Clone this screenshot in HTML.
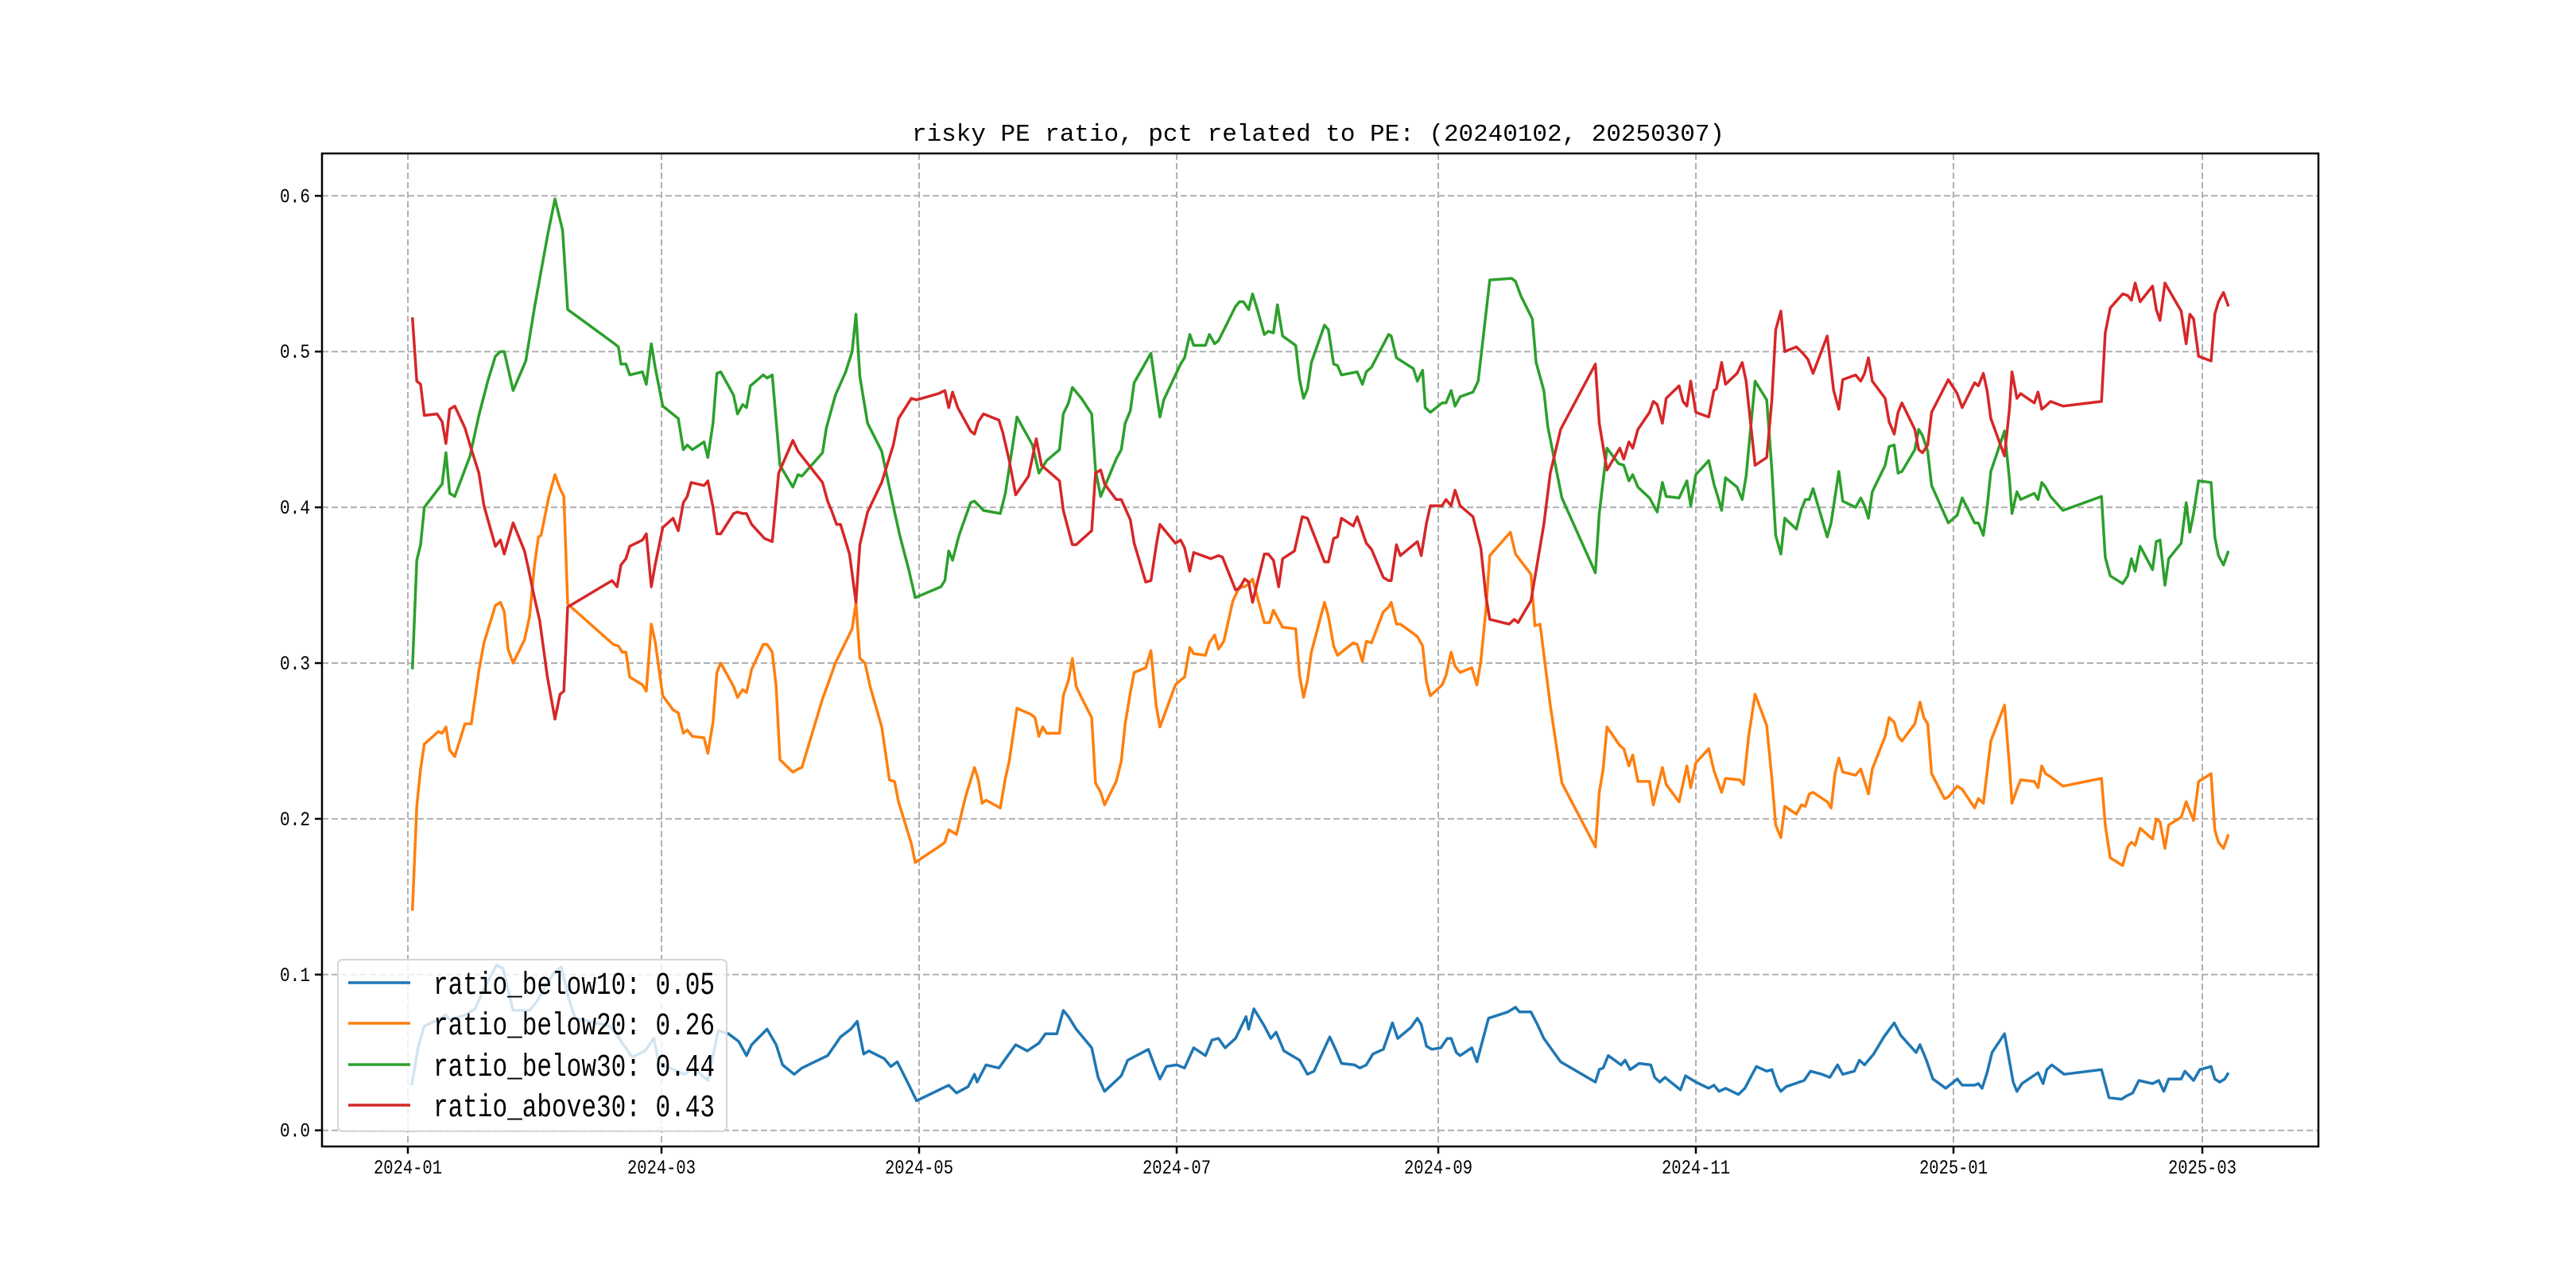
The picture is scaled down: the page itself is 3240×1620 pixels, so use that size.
<!DOCTYPE html>
<html><head><meta charset="utf-8">
<style>
html,body{margin:0;padding:0;background:#fff;}
svg{display:block;}
text{font-family:"Liberation Mono","Noto Sans CJK SC",monospace;fill:#000;}
</style></head>
<body>
<svg id="chart" width="3240" height="1620" viewBox="0 0 3240 1620" xmlns="http://www.w3.org/2000/svg">
  <rect x="0" y="0" width="3240" height="1620" fill="#fff"/>
  <text x="1147" y="177" font-size="31" textLength="1022" lengthAdjust="spacingAndGlyphs">risky PE ratio, pct related to PE: (20240102, 20250307)</text>
  <g id="grid"></g>
  <g id="series"></g>
  <rect x="405" y="193" width="2511" height="1249" fill="none" stroke="#000" stroke-width="2.5"/>
  <g id="ticks"></g>
  <g id="legend"></g>
</svg>
<script>
// ---- chart data ----
const xTickLabels = ["2024-01","2024-03","2024-05","2024-07","2024-09","2024-11","2025-01","2025-03"];
const xTickMonths = [0,2,4,6,8,10,12,14];
const yTickValues = [0.0,0.1,0.2,0.3,0.4,0.5,0.6];
const seriesNames = ["ratio_below10","ratio_below20","ratio_below30","ratio_above30"];
const seriesLast = ["0.05","0.26","0.44","0.43"];

const below10M = [0.03,0.08,0.13,0.26,0.30,0.33,0.45,0.53,0.60,0.70,0.75,0.83,0.96,1.01,1.15,1.21,1.27,1.32,1.59,1.64,1.77,1.87,1.94,1.98,2.18,2.25,2.36,2.44,2.52,2.60,2.66,2.70,2.82,2.89,2.94,3.03,3.09,3.29,3.39,3.47,3.52,3.57,3.61,3.73,3.78,3.83,3.91,3.98,4.23,4.29,4.38,4.43,4.45,4.52,4.62,4.75,4.84,4.93,4.98,5.07,5.12,5.16,5.22,5.34,5.39,5.44,5.57,5.62,5.78,5.83,5.87,5.92,6.0,6.06,6.13,6.22,6.27,6.32,6.37,6.45,6.53,6.55,6.59,6.67,6.72,6.76,6.82,6.94,7.0,7.05,7.17,7.22,7.26,7.36,7.40,7.45,7.50,7.58,7.65,7.69,7.79,7.84,7.87,7.91,7.95,8.02,8.07,8.10,8.14,8.17,8.26,8.30,8.39,8.54,8.60,8.63,8.72,8.77,8.82,8.95,9.22,9.25,9.28,9.32,9.42,9.45,9.49,9.56,9.65,9.68,9.72,9.76,9.88,9.92,10.0,10.10,10.14,10.18,10.23,10.33,10.38,10.47,10.55,10.59,10.63,10.66,10.70,10.84,10.89,10.98,11.04,11.10,11.14,11.23,11.27,11.31,11.38,11.46,11.54,11.59,11.71,11.74,11.79,11.84,11.94,12.03,12.07,12.17,12.20,12.23,12.27,12.31,12.41,12.48,12.51,12.55,12.68,12.72,12.75,12.79,12.89,13.19,13.25,13.35,13.39,13.44,13.49,13.60,13.65,13.69,13.73,13.83,13.86,13.93,13.98,14.07,14.10,14.14,14.18,14.21];
const below10V = [0.029,0.053,0.067,0.072,0.074,0.071,0.074,0.078,0.091,0.106,0.104,0.077,0.077,0.082,0.101,0.105,0.084,0.072,0.067,0.062,0.047,0.051,0.059,0.043,0.036,0.040,0.032,0.064,0.062,0.057,0.048,0.055,0.065,0.055,0.042,0.036,0.040,0.048,0.060,0.065,0.070,0.049,0.051,0.046,0.041,0.044,0.031,0.019,0.029,0.024,0.028,0.036,0.031,0.042,0.040,0.055,0.051,0.056,0.062,0.062,0.077,0.073,0.065,0.053,0.034,0.025,0.035,0.045,0.052,0.041,0.033,0.041,0.042,0.040,0.053,0.048,0.058,0.059,0.053,0.059,0.073,0.065,0.078,0.067,0.059,0.063,0.051,0.045,0.036,0.038,0.060,0.051,0.043,0.042,0.040,0.042,0.049,0.052,0.069,0.059,0.066,0.072,0.068,0.054,0.052,0.053,0.059,0.059,0.050,0.048,0.053,0.044,0.072,0.076,0.079,0.076,0.076,0.068,0.059,0.044,0.031,0.039,0.040,0.048,0.042,0.045,0.039,0.043,0.042,0.034,0.031,0.034,0.026,0.035,0.031,0.027,0.029,0.025,0.027,0.023,0.027,0.041,0.038,0.039,0.029,0.025,0.028,0.032,0.038,0.036,0.034,0.042,0.036,0.038,0.045,0.042,0.049,0.060,0.069,0.061,0.050,0.055,0.045,0.033,0.027,0.033,0.029,0.029,0.030,0.027,0.037,0.050,0.062,0.031,0.025,0.030,0.037,0.030,0.039,0.042,0.036,0.039,0.021,0.020,0.022,0.024,0.032,0.030,0.032,0.025,0.033,0.033,0.038,0.032,0.039,0.041,0.033,0.031,0.033,0.037];

const below20M = [0.036,0.07,0.10,0.13,0.24,0.27,0.30,0.33,0.37,0.45,0.50,0.56,0.60,0.69,0.73,0.76,0.79,0.83,0.92,0.96,1.0,1.03,1.05,1.11,1.16,1.20,1.23,1.26,1.62,1.66,1.69,1.72,1.75,1.85,1.88,1.92,1.95,2.01,2.09,2.13,2.17,2.20,2.24,2.33,2.36,2.40,2.43,2.46,2.56,2.59,2.63,2.66,2.70,2.79,2.82,2.86,2.89,2.92,3.02,3.06,3.09,3.25,3.29,3.35,3.48,3.51,3.54,3.58,3.62,3.71,3.77,3.81,3.84,3.94,3.97,4.17,4.20,4.23,4.29,4.36,4.43,4.46,4.49,4.52,4.63,4.67,4.70,4.76,4.87,4.90,4.93,4.96,4.99,5.09,5.12,5.16,5.19,5.22,5.26,5.34,5.37,5.41,5.44,5.53,5.57,5.60,5.64,5.67,5.76,5.80,5.84,5.87,5.99,6.03,6.06,6.10,6.13,6.22,6.25,6.29,6.32,6.36,6.43,6.48,6.52,6.55,6.58,6.67,6.71,6.74,6.81,6.91,6.94,6.97,7.0,7.03,7.13,7.16,7.20,7.23,7.35,7.38,7.42,7.45,7.49,7.58,7.62,7.64,7.68,7.71,7.81,7.84,7.88,7.91,7.94,8.03,8.06,8.10,8.13,8.17,8.26,8.30,8.33,8.37,8.40,8.56,8.60,8.72,8.75,8.79,8.87,8.96,9.22,9.25,9.28,9.31,9.41,9.44,9.48,9.51,9.55,9.64,9.67,9.74,9.77,9.87,9.93,9.96,10.0,10.10,10.14,10.20,10.23,10.34,10.37,10.41,10.46,10.55,10.59,10.62,10.66,10.69,10.78,10.82,10.85,10.88,10.91,11.02,11.05,11.08,11.11,11.14,11.24,11.28,11.34,11.37,11.47,11.50,11.54,11.57,11.60,11.70,11.74,11.77,11.80,11.83,11.93,11.96,12.03,12.07,12.17,12.20,12.24,12.30,12.41,12.45,12.47,12.51,12.54,12.65,12.68,12.71,12.74,12.78,12.88,13.19,13.22,13.26,13.36,13.40,13.43,13.46,13.50,13.60,13.63,13.66,13.70,13.73,13.83,13.87,13.90,13.93,13.97,14.07,14.10,14.13,14.17,14.21];
const below20V = [0.141,0.208,0.232,0.248,0.256,0.255,0.259,0.244,0.240,0.261,0.261,0.295,0.313,0.337,0.339,0.333,0.309,0.300,0.315,0.330,0.364,0.381,0.382,0.406,0.421,0.412,0.407,0.338,0.312,0.311,0.307,0.307,0.291,0.286,0.282,0.325,0.314,0.279,0.270,0.268,0.255,0.257,0.253,0.252,0.242,0.262,0.294,0.300,0.285,0.278,0.283,0.281,0.296,0.312,0.312,0.307,0.285,0.238,0.230,0.232,0.233,0.277,0.286,0.300,0.322,0.339,0.303,0.300,0.285,0.259,0.225,0.224,0.211,0.184,0.172,0.183,0.185,0.193,0.190,0.214,0.233,0.225,0.210,0.212,0.207,0.226,0.237,0.271,0.267,0.265,0.253,0.259,0.255,0.255,0.279,0.289,0.303,0.285,0.278,0.265,0.223,0.217,0.209,0.224,0.237,0.261,0.281,0.294,0.297,0.308,0.273,0.259,0.286,0.289,0.291,0.310,0.306,0.305,0.313,0.318,0.309,0.314,0.340,0.349,0.349,0.351,0.354,0.326,0.326,0.334,0.323,0.322,0.292,0.278,0.289,0.307,0.339,0.330,0.311,0.305,0.313,0.312,0.301,0.314,0.313,0.333,0.336,0.339,0.325,0.325,0.319,0.317,0.311,0.288,0.279,0.286,0.292,0.307,0.298,0.294,0.297,0.286,0.301,0.334,0.369,0.384,0.370,0.357,0.324,0.325,0.273,0.223,0.182,0.217,0.232,0.259,0.247,0.245,0.234,0.241,0.224,0.224,0.209,0.233,0.222,0.211,0.234,0.220,0.236,0.245,0.231,0.217,0.226,0.225,0.222,0.253,0.280,0.260,0.226,0.196,0.188,0.208,0.203,0.209,0.208,0.216,0.217,0.211,0.207,0.229,0.239,0.230,0.228,0.232,0.216,0.232,0.253,0.265,0.262,0.253,0.250,0.261,0.275,0.265,0.261,0.229,0.213,0.214,0.221,0.219,0.207,0.213,0.210,0.250,0.273,0.234,0.210,0.219,0.225,0.224,0.220,0.234,0.229,0.227,0.221,0.226,0.196,0.175,0.170,0.182,0.185,0.183,0.194,0.187,0.200,0.198,0.181,0.196,0.201,0.211,0.205,0.199,0.224,0.229,0.193,0.185,0.181,0.190];

const below30M = [0.036,0.07,0.10,0.13,0.27,0.30,0.33,0.37,0.49,0.56,0.63,0.69,0.73,0.76,0.83,0.93,1.0,1.10,1.16,1.22,1.26,1.63,1.66,1.68,1.72,1.75,1.85,1.88,1.92,1.95,2.01,2.13,2.17,2.20,2.24,2.33,2.36,2.40,2.43,2.46,2.56,2.59,2.63,2.66,2.69,2.79,2.82,2.86,2.92,3.02,3.06,3.09,3.25,3.28,3.35,3.43,3.48,3.51,3.54,3.60,3.71,3.81,3.85,3.92,3.97,4.17,4.20,4.23,4.26,4.31,4.40,4.43,4.50,4.63,4.67,4.76,4.88,4.93,4.99,5.09,5.12,5.16,5.19,5.26,5.34,5.37,5.41,5.44,5.53,5.57,5.60,5.64,5.67,5.80,5.84,5.87,5.90,5.99,6.03,6.06,6.10,6.13,6.22,6.25,6.29,6.32,6.45,6.48,6.51,6.55,6.58,6.62,6.67,6.70,6.74,6.77,6.81,6.91,6.94,6.97,7.0,7.03,7.13,7.16,7.20,7.23,7.26,7.38,7.42,7.45,7.49,7.62,7.64,7.68,7.81,7.84,7.88,7.90,7.94,8.03,8.06,8.10,8.13,8.17,8.27,8.31,8.40,8.57,8.60,8.64,8.73,8.76,8.82,8.85,8.96,9.22,9.25,9.31,9.40,9.44,9.48,9.51,9.55,9.64,9.70,9.74,9.77,9.87,9.93,9.96,10.0,10.10,10.14,10.17,10.20,10.23,10.32,10.36,10.39,10.46,10.55,10.59,10.62,10.66,10.69,10.78,10.82,10.85,10.88,10.91,11.02,11.05,11.11,11.14,11.24,11.28,11.31,11.34,11.37,11.47,11.50,11.54,11.57,11.60,11.70,11.73,11.76,11.80,11.83,11.96,12.03,12.07,12.17,12.20,12.24,12.27,12.30,12.41,12.45,12.47,12.51,12.54,12.65,12.68,12.71,12.74,12.78,12.88,13.19,13.22,13.26,13.36,13.40,13.43,13.46,13.50,13.60,13.63,13.66,13.70,13.73,13.83,13.87,13.90,13.93,13.97,14.07,14.10,14.13,14.17,14.21];
const below30V = [0.296,0.366,0.376,0.400,0.415,0.435,0.409,0.407,0.433,0.459,0.481,0.497,0.500,0.500,0.475,0.494,0.529,0.574,0.598,0.578,0.527,0.505,0.503,0.492,0.492,0.485,0.487,0.479,0.505,0.490,0.465,0.457,0.437,0.440,0.437,0.442,0.432,0.454,0.486,0.487,0.472,0.460,0.466,0.464,0.478,0.485,0.483,0.485,0.427,0.413,0.421,0.420,0.435,0.451,0.472,0.487,0.500,0.524,0.484,0.454,0.436,0.397,0.382,0.360,0.342,0.349,0.353,0.372,0.366,0.382,0.403,0.404,0.398,0.396,0.409,0.458,0.440,0.422,0.430,0.437,0.460,0.467,0.477,0.470,0.460,0.424,0.407,0.413,0.431,0.437,0.454,0.462,0.480,0.499,0.475,0.458,0.469,0.485,0.492,0.496,0.511,0.504,0.504,0.511,0.505,0.507,0.529,0.532,0.532,0.527,0.537,0.526,0.511,0.513,0.512,0.530,0.510,0.504,0.482,0.470,0.476,0.493,0.517,0.514,0.492,0.491,0.485,0.487,0.479,0.487,0.490,0.511,0.510,0.496,0.489,0.481,0.488,0.464,0.461,0.467,0.467,0.475,0.465,0.471,0.474,0.481,0.546,0.547,0.545,0.536,0.521,0.493,0.475,0.452,0.406,0.358,0.396,0.438,0.428,0.427,0.417,0.421,0.413,0.406,0.397,0.416,0.407,0.406,0.417,0.401,0.421,0.430,0.415,0.407,0.398,0.419,0.413,0.405,0.420,0.481,0.469,0.424,0.382,0.370,0.393,0.386,0.399,0.405,0.405,0.412,0.381,0.390,0.423,0.404,0.400,0.406,0.401,0.393,0.410,0.427,0.439,0.440,0.422,0.423,0.437,0.450,0.446,0.436,0.414,0.390,0.395,0.406,0.390,0.390,0.382,0.400,0.423,0.449,0.418,0.396,0.410,0.405,0.409,0.405,0.416,0.413,0.407,0.398,0.407,0.368,0.356,0.351,0.356,0.367,0.359,0.375,0.360,0.378,0.379,0.350,0.367,0.377,0.403,0.384,0.396,0.417,0.416,0.381,0.369,0.363,0.372];

const above30M = [0.036,0.07,0.10,0.13,0.23,0.27,0.30,0.33,0.37,0.45,0.49,0.56,0.60,0.69,0.73,0.76,0.83,0.92,0.95,0.99,1.04,1.10,1.16,1.20,1.23,1.26,1.61,1.65,1.68,1.72,1.75,1.85,1.88,1.92,1.95,2.01,2.09,2.13,2.17,2.20,2.23,2.33,2.36,2.40,2.43,2.46,2.56,2.59,2.63,2.66,2.70,2.80,2.86,2.91,3.02,3.06,3.25,3.29,3.32,3.36,3.39,3.46,3.51,3.54,3.60,3.71,3.80,3.84,3.94,3.98,4.15,4.20,4.23,4.26,4.30,4.40,4.43,4.46,4.50,4.62,4.65,4.70,4.75,4.85,4.91,4.95,5.09,5.12,5.19,5.22,5.26,5.34,5.37,5.41,5.44,5.53,5.57,5.64,5.67,5.76,5.80,5.84,5.87,5.99,6.03,6.06,6.10,6.13,6.26,6.32,6.35,6.45,6.48,6.52,6.55,6.58,6.67,6.70,6.74,6.78,6.81,6.90,6.96,7.00,7.13,7.16,7.20,7.23,7.26,7.35,7.38,7.45,7.49,7.58,7.62,7.64,7.68,7.71,7.84,7.87,7.91,7.94,8.03,8.06,8.10,8.13,8.17,8.27,8.33,8.37,8.40,8.55,8.59,8.62,8.72,8.82,8.87,8.95,9.22,9.25,9.31,9.41,9.44,9.48,9.51,9.55,9.64,9.67,9.70,9.74,9.77,9.87,9.90,9.93,9.96,10.0,10.10,10.14,10.16,10.20,10.23,10.32,10.36,10.39,10.46,10.55,10.59,10.62,10.66,10.69,10.78,10.83,10.87,10.91,11.02,11.07,11.11,11.14,11.24,11.28,11.31,11.34,11.37,11.47,11.50,11.54,11.57,11.60,11.70,11.73,11.76,11.80,11.83,11.96,12.03,12.07,12.17,12.20,12.24,12.27,12.30,12.41,12.45,12.47,12.51,12.54,12.65,12.68,12.71,12.74,12.78,12.88,13.19,13.22,13.26,13.36,13.40,13.43,13.46,13.50,13.60,13.63,13.66,13.70,13.83,13.87,13.90,13.93,13.97,14.07,14.10,14.13,14.17,14.21];
const above30V = [0.522,0.481,0.479,0.459,0.460,0.455,0.441,0.463,0.465,0.451,0.440,0.422,0.401,0.375,0.379,0.370,0.390,0.372,0.361,0.345,0.327,0.291,0.264,0.280,0.282,0.336,0.353,0.349,0.363,0.367,0.375,0.379,0.383,0.349,0.363,0.387,0.393,0.385,0.403,0.407,0.416,0.414,0.417,0.400,0.383,0.383,0.396,0.397,0.396,0.396,0.389,0.380,0.378,0.422,0.443,0.436,0.416,0.404,0.398,0.389,0.389,0.370,0.339,0.376,0.397,0.416,0.440,0.457,0.470,0.469,0.473,0.475,0.464,0.474,0.464,0.449,0.447,0.455,0.460,0.456,0.448,0.430,0.408,0.420,0.444,0.427,0.417,0.398,0.376,0.376,0.379,0.385,0.422,0.424,0.415,0.405,0.405,0.392,0.377,0.352,0.353,0.375,0.389,0.377,0.379,0.374,0.359,0.371,0.367,0.369,0.368,0.347,0.348,0.354,0.352,0.339,0.370,0.370,0.366,0.349,0.367,0.372,0.394,0.393,0.365,0.365,0.380,0.381,0.393,0.388,0.394,0.377,0.373,0.355,0.353,0.353,0.376,0.369,0.378,0.369,0.390,0.401,0.401,0.405,0.401,0.411,0.401,0.394,0.374,0.343,0.328,0.325,0.328,0.326,0.340,0.389,0.422,0.450,0.492,0.454,0.424,0.438,0.431,0.442,0.438,0.450,0.461,0.468,0.466,0.454,0.470,0.478,0.468,0.465,0.481,0.461,0.458,0.475,0.476,0.493,0.479,0.486,0.493,0.481,0.427,0.432,0.469,0.514,0.526,0.500,0.503,0.499,0.495,0.486,0.510,0.475,0.463,0.482,0.485,0.481,0.486,0.496,0.481,0.470,0.455,0.447,0.461,0.467,0.450,0.437,0.435,0.440,0.461,0.482,0.473,0.464,0.480,0.478,0.486,0.475,0.457,0.433,0.463,0.487,0.470,0.473,0.467,0.474,0.463,0.465,0.468,0.465,0.468,0.512,0.528,0.537,0.536,0.533,0.544,0.532,0.542,0.527,0.520,0.544,0.526,0.505,0.524,0.521,0.497,0.494,0.524,0.532,0.538,0.529];

// ---- layout ----
const NS = "http://www.w3.org/2000/svg";
const axL = 405, axR = 2916, axT = 193, axB = 1442;
const tickPx = [513, 832, 1156, 1480, 1809, 2133, 2457, 2770];
function xScale(m){
  let i = 0;
  if (m <= xTickMonths[0]) i = 0;
  else { while (i < xTickMonths.length - 2 && m > xTickMonths[i+1]) i++; }
  const m0 = xTickMonths[i], m1 = xTickMonths[i+1];
  return tickPx[i] + (m - m0) / (m1 - m0) * (tickPx[i+1] - tickPx[i]);
}
function yScale(v){ return 1421.7 - v * 1959; }
function mk(tag, attrs, parent){
  const el = document.createElementNS(NS, tag);
  for (const k in attrs) el.setAttribute(k, attrs[k]);
  parent.appendChild(el);
  return el;
}
const grid = document.getElementById('grid');
const ticks = document.getElementById('ticks');
const seriesG = document.getElementById('series');
const legend = document.getElementById('legend');

xTickMonths.forEach((m, i) => {
  const x = xScale(m);
  const gl = mk('line', {x1:x, x2:x, y1:axT, y2:axB, stroke:'#b0b0b0', 'stroke-width':2, 'stroke-dasharray':'8,4'}, grid);
  
  
  const tk = mk('line', {x1:x, x2:x, y1:axB, y2:axB+9, stroke:'#000', 'stroke-width':2.5}, ticks);
  
  
  const t = mk('text', {x:x, y:1476, 'font-size':25, 'text-anchor':'middle', textLength:86, lengthAdjust:'spacingAndGlyphs'}, ticks);
  t.textContent = xTickLabels[i];
  
  
});
yTickValues.forEach(v => {
  const y = yScale(v);
  const gl = mk('line', {x1:axL, x2:axR, y1:y, y2:y, stroke:'#b0b0b0', 'stroke-width':2, 'stroke-dasharray':'8,4'}, grid);
  
  
  const tk = mk('line', {x1:axL-9, x2:axL, y1:y, y2:y, stroke:'#000', 'stroke-width':2.5}, ticks);
  
  
  const t = mk('text', {x:390, y:y+8, 'font-size':25, 'text-anchor':'end', textLength:38, lengthAdjust:'spacingAndGlyphs'}, ticks);
  t.textContent = v.toFixed(1);
  
  
});

const colors = ['#1f77b4', '#ff7f0e', '#2ca02c', '#d62728'];
const allM = [below10M, below20M, below30M, above30M];
const allV = [below10V, below20V, below30V, above30V];
allM.forEach((ms, s) => {
  const vs = allV[s];
  const pts = ms.map((m, i) => xScale(m).toFixed(1) + ',' + yScale(vs[i]).toFixed(1)).join(' ');
  const pl = mk('polyline', {points:pts, fill:'none', stroke:colors[s], 'stroke-width':3.5, 'stroke-linejoin':'round'}, seriesG);
  
  
});

// legend
const lb = mk('rect', {x:425, y:1207, width:489, height:216, rx:6, fill:'#fff', 'fill-opacity':0.8, stroke:'#d6d6d6', 'stroke-width':2}, legend);


const rows = [1236, 1287, 1339, 1390];
seriesNames.forEach((n, s) => {
  const ln = mk('line', {x1:438, x2:516, y1:rows[s], y2:rows[s], stroke:colors[s], 'stroke-width':3.5}, legend);
  
  
  const t = mk('text', {x:545, y:rows[s]+14, 'font-size':40, textLength:354, lengthAdjust:'spacingAndGlyphs'}, legend);
  t.textContent = n + ': ' + seriesLast[s];
  
  
});
</script>
</body></html>
